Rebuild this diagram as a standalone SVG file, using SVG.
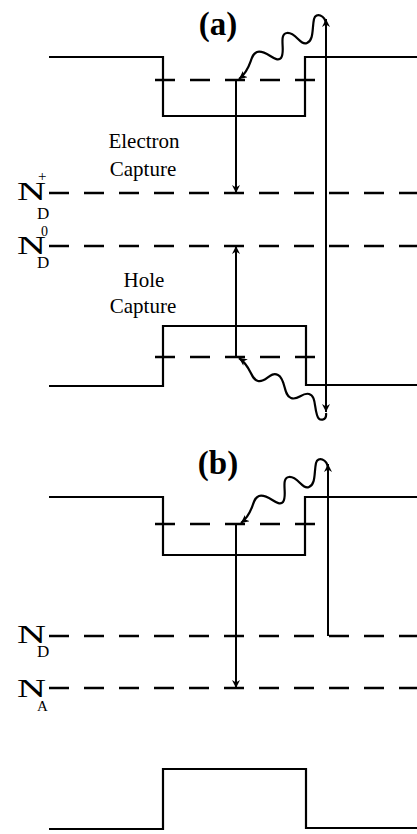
<svg xmlns="http://www.w3.org/2000/svg" width="417" height="834" viewBox="0 0 417 834">
<style>
.band{fill:none;stroke:#000;stroke-width:2.2}
.dash{fill:none;stroke:#000;stroke-width:2.4;stroke-dasharray:20 15}
.arr{fill:none;stroke:#000;stroke-width:2}
.wave{fill:none;stroke:#000;stroke-width:2.2}
.lbl{font-family:"Liberation Serif","Times New Roman",serif;fill:#000}
.title{font-family:"Liberation Serif","Times New Roman",serif;font-weight:bold;font-size:33px;fill:#000;text-anchor:middle}
.cap{font-family:"Liberation Serif","Times New Roman",serif;font-size:21px;fill:#000;text-anchor:middle}
</style>
<defs>
<marker id="ah" viewBox="0 0 10 10" refX="10" refY="5" markerWidth="10" markerHeight="8" markerUnits="userSpaceOnUse" orient="auto-start-reverse">
<path d="M0,0 L10,5 L0,10 L3,5 z" fill="#000"/>
</marker>
</defs>
<rect width="417" height="834" fill="#fff"/>

<g id="panel-a">
<text class="title" x="218" y="35">(a)</text>
<g id="a-conduction">
<polyline class="band" points="49,57 163,57 163,116 305,116 305,57 417,57"/>
<line class="dash" x1="155" y1="80" x2="317" y2="80"/>
</g>
<g id="a-valence">
<polyline class="band" points="49,386 163,386 163,326 306,326 306,385 417,385"/>
<line class="dash" x1="155" y1="357" x2="317" y2="357"/>
</g>
<g id="a-ndplus">
<line class="dash" x1="49" y1="193" x2="417" y2="193"/>
<text class="lbl" x="17" y="200" font-size="25" textLength="29" lengthAdjust="spacingAndGlyphs">N</text>
<text class="lbl" x="37" y="219" font-size="17">D</text>
<text class="lbl" x="38" y="181" font-size="15">+</text>
</g>
<g id="a-ndzero">
<line class="dash" x1="49" y1="246" x2="417" y2="246"/>
<text class="lbl" x="17" y="254" font-size="25" textLength="29" lengthAdjust="spacingAndGlyphs">N</text>
<text class="lbl" x="37" y="268" font-size="17">D</text>
<text class="lbl" x="41" y="236" font-size="14">0</text>
</g>
<g id="a-electron-label">
<text class="cap" x="144" y="148">Electron</text>
<text class="cap" x="143" y="176">Capture</text>
</g>
<g id="a-hole-label">
<text class="cap" x="144" y="287">Hole</text>
<text class="cap" x="143" y="313">Capture</text>
</g>
</g>

<g id="panel-b">
<text class="title" x="218" y="474">(b)</text>
<g id="b-conduction">
<polyline class="band" points="49,497 163,497 163,555 305,555 305,497 417,497"/>
<line class="dash" x1="155" y1="524" x2="317" y2="524"/>
</g>
<g id="b-nd">
<line class="dash" x1="49" y1="636" x2="417" y2="636"/>
<text class="lbl" x="17" y="643" font-size="25" textLength="29" lengthAdjust="spacingAndGlyphs">N</text>
<text class="lbl" x="37" y="657" font-size="17">D</text>
</g>
<g id="b-na">
<line class="dash" x1="49" y1="688" x2="417" y2="688"/>
<text class="lbl" x="17" y="697" font-size="25" textLength="29" lengthAdjust="spacingAndGlyphs">N</text>
<text class="lbl" x="37" y="711" font-size="15">A</text>
</g>
<g id="b-valence">
<polyline class="band" points="49,829 163,829 163,769 306,769 306,828 417,828"/>
</g>
</g>

<g id="connectors">
<line class="arr" x1="236" y1="80" x2="236" y2="193" marker-end="url(#ah)"/>
<line class="arr" x1="236" y1="357" x2="236" y2="246" marker-end="url(#ah)"/>
<line class="arr" x1="326" y1="412" x2="326" y2="19" marker-start="url(#ah)" marker-end="url(#ah)"/>
<path class="wave" d="M326,24 C325,15 316,12 314,19 C312,28 314,40 307,43 C300,46 296,32 287,33 C278,34 286,52 281,58 C276,64 266,49 257,52 C249,55 253,68 239,79" marker-end="url(#ah)"/>
<path class="wave" d="M326,413 C327,421 319,422 317,415 C314,406 316,396 309,394 C302,392 298,401 291,398 C283,395 286,379 278,375 C270,371 266,383 258,381 C250,379 252,367 239,358" marker-end="url(#ah)"/>
<line class="arr" x1="236" y1="524" x2="236" y2="688" marker-end="url(#ah)"/>
<line class="arr" x1="328" y1="636" x2="328" y2="464" marker-end="url(#ah)"/>
<path class="wave" d="M328,468 C327,459 318,456 316,463 C314,472 316,484 309,487 C302,490 298,476 289,477 C280,478 288,496 283,502 C278,508 268,493 259,496 C251,499 255,512 241,523" marker-end="url(#ah)"/>
</g>
</svg>
